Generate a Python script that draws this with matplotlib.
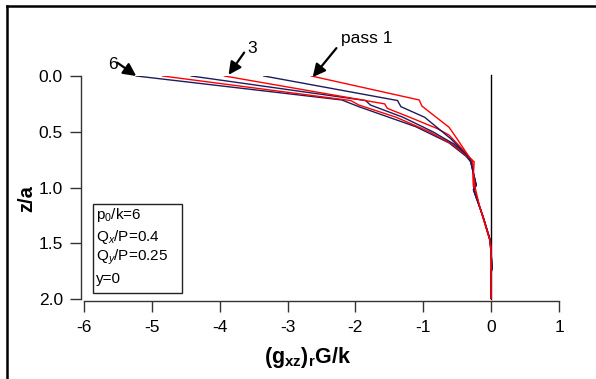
import matplotlib
matplotlib.use("Agg")
import matplotlib.pyplot as plt
from matplotlib.patches import Rectangle
from matplotlib.lines import Line2D

plt.rcParams['font.family'] = ['Liberation Sans', 'DejaVu Sans']
plt.rcParams['mathtext.fontset'] = 'custom'
plt.rcParams['mathtext.rm'] = 'Liberation Sans'
plt.rcParams['mathtext.it'] = 'Liberation Sans:italic'
plt.rcParams['mathtext.bf'] = 'Liberation Sans:bold'

# ---- data ----
pass1_x = [-2.65, -1.06, -1.02, -0.62, -0.50, -0.32, -0.25, -0.26, -0.24, -0.17, -0.10, -0.02, 0.0, 0.0]
pass1_z = [0.0, 0.215, 0.27, 0.46, 0.565, 0.73, 0.77, 0.87, 0.99, 1.17, 1.30, 1.47, 1.6, 2.0]

pass2_x = [-3.35, -1.38, -1.33, -0.98, -0.59, -0.32, -0.30, -0.22, -0.26, -0.12, -0.015, 0.0, 0.015, 0.0, 0.0]
pass2_z = [0.0, 0.22, 0.275, 0.37, 0.565, 0.735, 0.77, 0.98, 1.02, 1.26, 1.47, 1.6, 1.72, 1.76, 2.0]

pass3_x = [-3.93, -1.57, -1.53, -1.20, -0.80, -0.62, -0.37, -0.28, -0.27, -0.26, -0.17, -0.02, 0.0, 0.0]
pass3_z = [0.0, 0.25, 0.29, 0.37, 0.47, 0.53, 0.69, 0.76, 0.80, 0.99, 1.17, 1.47, 1.55, 2.0]

pass4_x = [-4.42, -1.85, -1.78, -1.30, -0.86, -0.55, -0.35, -0.30, -0.22, -0.26, -0.12, -0.015, 0.0, 0.015, 0.0, 0.0]
pass4_z = [0.0, 0.22, 0.26, 0.37, 0.50, 0.61, 0.71, 0.77, 0.98, 1.02, 1.26, 1.47, 1.6, 1.72, 1.76, 2.0]

pass5_x = [-4.84, -2.07, -1.95, -1.40, -0.91, -0.58, -0.36, -0.28, -0.27, -0.26, -0.17, -0.02, 0.0, 0.0]
pass5_z = [0.0, 0.22, 0.26, 0.37, 0.50, 0.61, 0.715, 0.77, 0.80, 0.99, 1.17, 1.47, 1.55, 2.0]

pass6_x = [-5.23, -2.20, -1.95, -1.11, -0.62, -0.37, -0.30, -0.22, -0.26, -0.12, -0.015, 0.0, 0.015, 0.0, 0.0]
pass6_z = [0.0, 0.215, 0.275, 0.455, 0.60, 0.72, 0.77, 0.98, 1.02, 1.26, 1.47, 1.6, 1.72, 1.76, 2.0]

xticks = [-6, -5, -4, -3, -2, -1, 0, 1]
yticks = [0.0, 0.5, 1.0, 1.5, 2.0]
ytick_labels = ["0.0", "0.5", "1.0", "1.5", "2.0"]
info_lines = [r"p$_0$/k=6", r"Q$_x$/P=0.4", r"Q$_y$/P=0.25", "y=0"]

RED = '#ff0000'
NAVY = '#1c1c5e'

W, H = 596, 379
fig = plt.figure(figsize=(W / 100, H / 100), dpi=100)
ax = fig.add_axes([84 / W, 1 - 299 / H, (559 - 84) / W, (299 - 76) / H])

series = [(pass6_x, pass6_z, NAVY), (pass5_x, pass5_z, RED), (pass4_x, pass4_z, NAVY),
          (pass3_x, pass3_z, RED), (pass2_x, pass2_z, NAVY), (pass1_x, pass1_z, RED)]
for xs, zs, c in series:
    ax.plot(xs, zs, color=c, lw=1.0, solid_joinstyle='miter')

ax.plot([0, 0], [-0.01, 2.0], color='black', lw=1.0, clip_on=False, zorder=1)

ax.set_xlim(-6, 1)
ax.set_ylim(2.0, 0.0)
ax.set_xticks(xticks)
ax.set_xticklabels([str(t) for t in xticks])
ax.set_yticks(yticks)
ax.set_yticklabels(ytick_labels)

for s in ['top', 'right']:
    ax.spines[s].set_visible(False)
ax.spines['left'].set_position(('outward', 2.2))
ax.spines['bottom'].set_position(('outward', 1.4))
ax.spines['left'].set_bounds(0, 2)
ax.spines['bottom'].set_bounds(-6, 1)
for s in ['left', 'bottom']:
    ax.spines[s].set_color('#333333')
    ax.spines[s].set_linewidth(1.0)
ax.tick_params(axis='both', direction='out', length=8, width=1.0, color='#333333',
               labelsize=12.5, labelcolor='black')
ax.tick_params(axis='y', pad=5)
ax.tick_params(axis='x', pad=6)

# info box
ax.add_patch(Rectangle((-5.87, 1.15), 1.32, 0.80, fill=False, edgecolor='#222222', lw=1.0, zorder=5))
for i, t in enumerate(info_lines):
    ax.text(-5.82, 1.25 + i * 0.19, t, fontsize=11, va='center', ha='left')

# arrows with labels
arrow_kw = dict(arrowstyle='-|>', mutation_scale=19, lw=1.6, color='black', shrinkA=0, shrinkB=0)
ax.annotate('', xy=(-2.63, 0.01), xytext=(-2.28, -0.25), arrowprops=arrow_kw, annotation_clip=False)
ax.text(-2.21, -0.34, 'pass 1', fontsize=12.5, ha='left', va='center')
ax.annotate('', xy=(-3.87, -0.01), xytext=(-3.64, -0.21), arrowprops=arrow_kw, annotation_clip=False)
ax.text(-3.52, -0.25, '3', fontsize=12.5, ha='center', va='center')
ax.annotate('', xy=(-5.23, 0.0), xytext=(-5.51, -0.12), arrowprops=arrow_kw, annotation_clip=False)
ax.text(-5.58, -0.10, '6', fontsize=12.5, ha='center', va='center')

# axis labels
fig.text(308 / W, 1 - 358 / H, r'$\mathbf{(g_{xz})_{r}G/k}$', fontsize=15.5, ha='center', va='center')
fig.text(27 / W, 1 - 199 / H, 'z/a', fontsize=14.5, fontweight='bold', rotation=90, ha='center', va='center')

# figure frame (top and left edges visible)
fig.add_artist(Line2D([7 / W, 1.0], [1 - 6 / H, 1 - 6 / H], transform=fig.transFigure, color='black', lw=1.8))
fig.add_artist(Line2D([7 / W, 7 / W], [0.0, 1 - 6 / H], transform=fig.transFigure, color='black', lw=1.8))

fig.savefig('out.png', dpi=100)
